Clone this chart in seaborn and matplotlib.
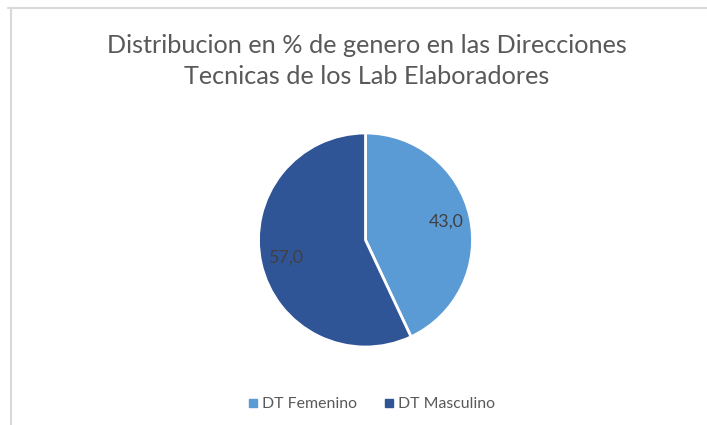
import matplotlib
matplotlib.use("Agg")
import matplotlib.pyplot as plt
from matplotlib.lines import Line2D
import seaborn as sns

# datos del grafico
categorias = ["DT Femenino", "DT Masculino"]
porcentajes = [43.0, 57.0]
colores = ["#5B9BD5", "#2F5597"]
titulo = "Distribucion en % de genero en las Direcciones\nTecnicas de los Lab Elaboradores"

sns.set_theme(style="white")
plt.rcParams["font.family"] = ["Lato", "DejaVu Sans"]

W, H = 707, 425
fig = plt.figure(figsize=(W / 100, H / 100), dpi=100)

# marco del grafico (solo borde superior e izquierdo visibles)
fig.add_artist(Line2D([8 / W, 1], [1 - 8 / H, 1 - 8 / H], color="#D9D9D9", lw=1.5))
fig.add_artist(Line2D([11 / W, 11 / W], [0, 1 - 8 / H], color="#D9D9D9", lw=1.5))

# pastel
cx, cy, r = 365.5, 240, 107
ax = fig.add_axes([(cx - r) / W, (H - cy - r) / H, 2 * r / W, 2 * r / H])
wedges, textos = ax.pie(
    porcentajes,
    colors=colores,
    startangle=90,
    counterclock=False,
    labels=[f"{v:.1f}".replace(".", ",") for v in porcentajes],
    labeldistance=0.77,
    wedgeprops=dict(edgecolor="white", linewidth=2),
    textprops=dict(color="#404040", fontsize=12.8, ha="center", va="center"),
)
ax.set_xlim(-1, 1)
ax.set_ylim(-1, 1)
ax.axis("off")

fig.text(367 / W, 1 - 61 / H, titulo, ha="center", va="center",
         fontsize=18.2, color="#595959", linespacing=1.4)

handles = [Line2D([], [], marker="s", linestyle="", color=c, markersize=6) for c in colores]
fig.legend(handles, categorias, loc="center", bbox_to_anchor=(370 / W, 21 / H),
           ncol=2, frameon=False, fontsize=11.4, labelcolor="#595959",
           handletextpad=0.1, columnspacing=1.5, handlelength=1.0)

fig.savefig("out.png", dpi=100)
